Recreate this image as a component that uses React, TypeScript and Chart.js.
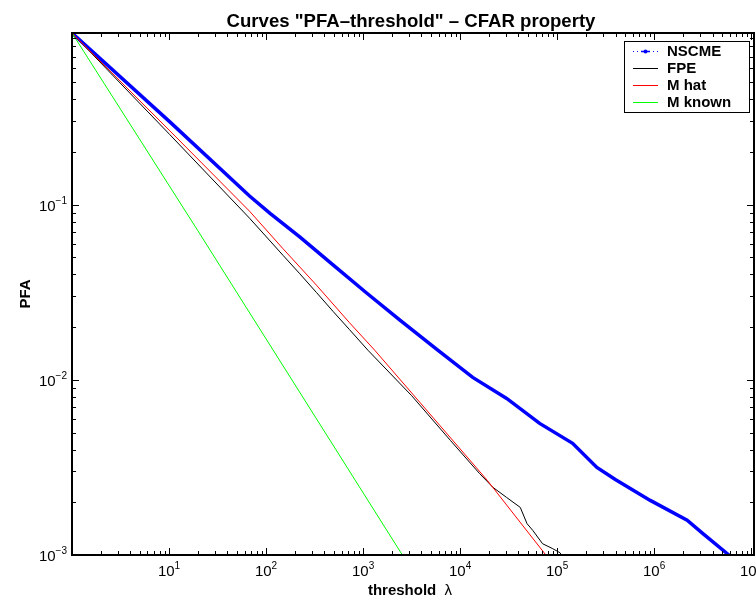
import React, { useEffect, useRef } from "react";
import { Chart, registerables } from "chart.js";

Chart.register(...registerables);

// ---- Data ----
const nscmeLambda = [1, 10.2, 67.6, 110, 224, 490, 1096, 2399, 5888, 13490, 30200, 66070, 144500, 257000, 398000, 912000, 2188000, 3162000, 6026000, 6500000];
const nscmePfa = [0.955, 0.297, 0.112, 0.0893, 0.0652, 0.0453, 0.0312, 0.0219, 0.01476, 0.01033, 0.00783, 0.00564, 0.00434, 0.00316, 0.0027, 0.00205, 0.00158, 0.00133, 0.00099, 0.00099];

const fpeLambda = [1, 10.2, 67.6, 150, 223, 331, 490, 724, 1122, 3162, 7943, 15850, 21880, 30200, 41690, 48980, 56230, 70790, 89130, 107200, 112200];
const fpePfa = [0.955, 0.251, 0.0837, 0.0513, 0.0403, 0.0315, 0.0246, 0.01936, 0.01476, 0.00813, 0.00451, 0.00292, 0.00243, 0.00213, 0.00187, 0.00151, 0.00138, 0.00116, 0.00109, 0.00103, 0.00099];

const mHatLambda = [1, 10.2, 67.6, 148, 331, 724, 1318, 6166, 19050, 77600];
const mHatPfa = [0.955, 0.264, 0.0918, 0.0564, 0.0347, 0.0212, 0.01476, 0.0055, 0.00267, 0.00099];

const mKnownLambda = [1, 19.7, 2570];
const mKnownPfa = [0.955, 0.0714, 0.00099];

const seriesNames = ["NSCME", "FPE", "M hat", "M known"];
const seriesColors = ["#0000ff", "#000000", "#ff0000", "#00ff00"];

const xTickExponents = [1, 2, 3, 4, 5, 6, 7];
const yTickExponents = [-3, -2, -1];

const X_MIN = 1;
const X_MAX = 1.07e7;
const Y_MIN = 1e-3;
const Y_MAX = 0.955;

const titleText = "Curves \"PFA\u2013threshold\" \u2013 CFAR property";
const xTitleText = "threshold";
const xTitleSymbol = "\u03bb";
const yTitleText = "PFA";

const FONT = "'Liberation Sans', Arial, Helvetica, sans-serif";

const pts = (xs: number[], ys: number[]) => xs.map((x, i) => ({ x, y: ys[i] }));

const matlabAxesPlugin = {
  id: "matlabAxes",
  afterDraw(chart: any) {
    const { ctx, chartArea, scales } = chart;
    const { left, right, top, bottom } = chartArea;
    const xs = scales.x;
    const ys = scales.y;
    ctx.save();

    // ticks
    ctx.strokeStyle = "#000";
    ctx.lineWidth = 1;
    ctx.beginPath();
    for (let k = 0; k <= 7; k++) {
      for (let m = 1; m <= 9; m++) {
        const v = m * Math.pow(10, k);
        if (v <= X_MIN || v > X_MAX) continue;
        const px = Math.round(xs.getPixelForValue(v)) + 0.5;
        const len = m === 1 ? 7 : 4;
        ctx.moveTo(px, bottom);
        ctx.lineTo(px, bottom - len);
        ctx.moveTo(px, top);
        ctx.lineTo(px, top + len);
      }
    }
    for (let k = -3; k <= 0; k++) {
      for (let m = 1; m <= 9; m++) {
        const v = m * Math.pow(10, k);
        if (v <= Y_MIN || v > Y_MAX) continue;
        const py = Math.round(ys.getPixelForValue(v)) + 0.5;
        const len = m === 1 ? 7 : 4;
        ctx.moveTo(left, py);
        ctx.lineTo(left + len, py);
        ctx.moveTo(right, py);
        ctx.lineTo(right - len, py);
      }
    }
    ctx.stroke();

    // box
    ctx.lineWidth = 2;
    ctx.strokeRect(left, top, right - left, bottom - top);

    // tick labels
    ctx.fillStyle = "#000";
    ctx.textBaseline = "alphabetic";
    const baseFont = `15px ${FONT}`;
    const expFont = `10px ${FONT}`;
    const expStr = (e: number) => (e < 0 ? "\u2212" + Math.abs(e) : String(e));
    for (const e of xTickExponents) {
      const px = xs.getPixelForValue(Math.pow(10, e));
      ctx.font = baseFont;
      const w1 = ctx.measureText("10").width;
      ctx.font = expFont;
      const w2 = ctx.measureText(expStr(e)).width;
      const x0 = px - (w1 + w2) / 2;
      const base = bottom + 21;
      ctx.font = baseFont;
      ctx.textAlign = "left";
      ctx.fillText("10", x0, base);
      ctx.font = expFont;
      ctx.fillText(expStr(e), x0 + w1, base - 7);
    }
    for (const e of yTickExponents) {
      const py = ys.getPixelForValue(Math.pow(10, e));
      ctx.font = expFont;
      const w2 = ctx.measureText(expStr(e)).width;
      ctx.font = baseFont;
      const w1 = ctx.measureText("10").width;
      const xEnd = left - 5;
      const base = py + 6;
      ctx.textAlign = "left";
      ctx.fillText("10", xEnd - w2 - w1, base);
      ctx.font = expFont;
      ctx.fillText(expStr(e), xEnd - w2, base - 7);
    }

    // title
    const cx = (left + right) / 2;
    ctx.font = `bold 18.6px ${FONT}`;
    ctx.textAlign = "center";
    ctx.fillText(titleText, cx - 2, 27);

    // x title
    ctx.font = `bold 15px ${FONT}`;
    const wT = ctx.measureText(xTitleText + "  ").width;
    ctx.font = `15px ${FONT}`;
    const wL = ctx.measureText(xTitleSymbol).width;
    const xs0 = cx - (wT + wL) / 2 - 3;
    ctx.textAlign = "left";
    ctx.font = `bold 15px ${FONT}`;
    ctx.fillText(xTitleText, xs0, 595);
    ctx.font = `15px ${FONT}`;
    ctx.fillText(xTitleSymbol, xs0 + wT, 595);

    // y title
    ctx.save();
    ctx.translate(30, (top + bottom) / 2);
    ctx.rotate(-Math.PI / 2);
    ctx.font = `bold 15px ${FONT}`;
    ctx.textAlign = "center";
    ctx.fillText(yTitleText, 0, 0);
    ctx.restore();

    // legend
    const lx = 624, ly = 41, lw = 125, lh = 71;
    ctx.fillStyle = "#fff";
    ctx.fillRect(lx, ly, lw, lh);
    ctx.strokeStyle = "#000";
    ctx.lineWidth = 1;
    ctx.strokeRect(lx + 0.5, ly + 0.5, lw, lh);
    const rowY = [51, 68, 85, 102];
    seriesNames.forEach((name, i) => {
      const y0 = rowY[i] + 0.5;
      ctx.strokeStyle = seriesColors[i];
      ctx.lineWidth = 1;
      if (i === 0) {
        ctx.setLineDash([1, 3]);
      } else {
        ctx.setLineDash([]);
      }
      ctx.beginPath();
      ctx.moveTo(633, y0);
      ctx.lineTo(658, y0);
      ctx.stroke();
      ctx.setLineDash([]);
      if (i === 0) {
        ctx.fillStyle = seriesColors[0];
        ctx.beginPath();
        ctx.arc(645.5, y0, 2, 0, Math.PI * 2);
        ctx.fill();
        ctx.beginPath();
        ctx.moveTo(641, y0);
        ctx.lineTo(650, y0);
        ctx.lineWidth = 1.5;
        ctx.stroke();
      }
      ctx.fillStyle = "#000";
      ctx.font = `bold 15px ${FONT}`;
      ctx.textAlign = "left";
      ctx.textBaseline = "middle";
      ctx.fillText(name, 667, rowY[i] + 1);
    });
    ctx.restore();
  },
};

export default function App() {
  const canvasRef = useRef<HTMLCanvasElement | null>(null);

  useEffect(() => {
    if (!canvasRef.current) return;
    const datasets = [
      { label: seriesNames[0], data: pts(nscmeLambda, nscmePfa), borderColor: seriesColors[0], borderWidth: 3.5, order: 4 },
      { label: seriesNames[1], data: pts(fpeLambda, fpePfa), borderColor: seriesColors[1], borderWidth: 1, order: 3 },
      { label: seriesNames[2], data: pts(mHatLambda, mHatPfa), borderColor: seriesColors[2], borderWidth: 1, order: 2 },
      { label: seriesNames[3], data: pts(mKnownLambda, mKnownPfa), borderColor: seriesColors[3], borderWidth: 1, order: 1 },
    ].map((d) => ({ ...d, showLine: true, pointRadius: 0, tension: 0, fill: false, backgroundColor: d.borderColor }));

    const chart = new Chart(canvasRef.current, {
      type: "scatter",
      data: { datasets },
      options: {
        animation: false,
        responsive: false,
        maintainAspectRatio: false,
        devicePixelRatio: 1,
        layout: { padding: { left: 72, right: 2, top: 33, bottom: 45 } },
        scales: {
          x: { type: "logarithmic", min: X_MIN, max: X_MAX, display: false },
          y: { type: "logarithmic", min: Y_MIN, max: Y_MAX, display: false },
        },
        plugins: {
          legend: { display: false },
          title: { display: false },
          tooltip: { enabled: false },
        },
      },
      plugins: [matlabAxesPlugin],
    } as any);
    return () => chart.destroy();
  }, []);

  return (
    <div style={{ position: "absolute", left: 0, top: 0, width: 756, height: 600, background: "#fff" }}>
      <canvas ref={canvasRef} width={756} height={600} style={{ width: 756, height: 600 }} />
    </div>
  );
}
